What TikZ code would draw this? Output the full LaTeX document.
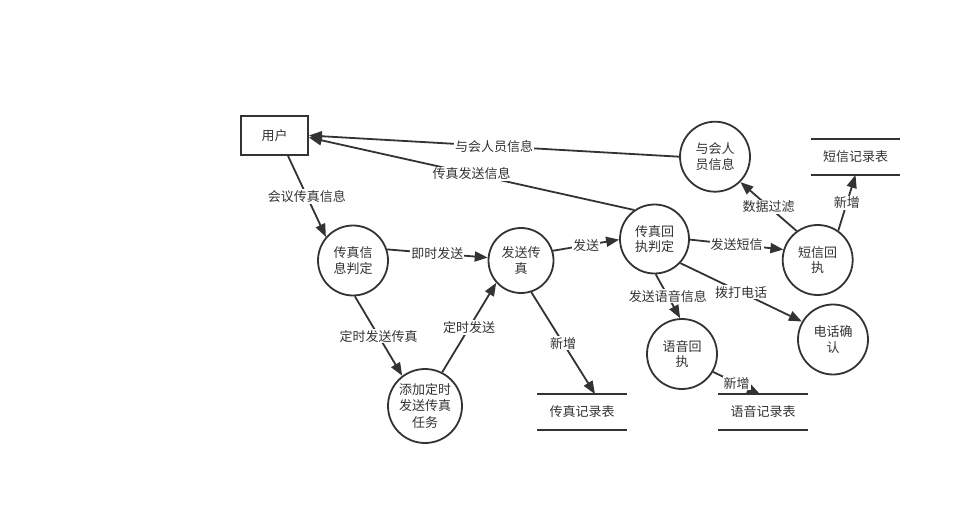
\documentclass[tikz,border=0pt]{standalone}
\usepackage{fontspec}
\setmainfont{Noto Sans CJK SC}
\usetikzlibrary{arrows.meta}
\definecolor{ink}{HTML}{333333}
\begin{document}
\begin{tikzpicture}[x=1pt,y=-1pt, line width=1.8pt, color=ink,
  font=\fontsize{13}{15.5}\selectfont,
  proc/.style={circle, draw, minimum size=70pt, inner sep=0pt, align=center},
  ent/.style={rectangle, draw, minimum width=67pt, minimum height=39pt, inner sep=0pt},
  store/.style={minimum width=88pt, minimum height=34pt, inner sep=0pt},
  flow/.style={-{Triangle[length=13pt,width=10pt]}},
  lbl/.style={fill=white, inner sep=1pt, midway}]
\fill[white] (0,0) rectangle (961,505);
\useasboundingbox (0,0) rectangle (961,505);

\node[ent] (user) at (274.5,135.5) {用户};
\node[proc] (pd) at (353,260.5) {传真信\\息判定};
\node[proc, minimum size=65pt] (fs) at (521,260.5) {发送传\\真};
\node[proc, minimum size=69pt] (fr) at (654.5,239) {传真回\\执判定};
\node[proc] (yh) at (715,156.7) {与会人\\员信息};
\node[proc] (sms) at (817.7,260) {短信回\\执};
\node[proc] (voice) at (682,354) {语音回\\执};
\node[proc] (phone) at (833,339.5) {电话确\\认};
\node[proc, minimum size=74pt, font=\fontsize{13}{16.5}\selectfont] (task) at (425,406) {添加定时\\发送传真\\任务};
\node[store] (st) at (855.5,157) {短信记录表};
\node[store] (fb) at (582,412) {传真记录表};
\node[store] (vt) at (763,412) {语音记录表};

\foreach \t in {st,fb,vt}{
  \draw (\t.north west) -- (\t.north east);
  \draw (\t.south west) -- (\t.south east);
}

\draw[flow] (yh.west) -- node[lbl]{与会人员信息} (user.east);
\draw[flow] (fr.125) -- node[lbl]{传真发送信息} ([yshift=-2pt]user.east);
\draw[flow] ([xshift=13.5pt]user.south) -- node[lbl]{会议传真信息} (pd.139);
\draw[flow] (pd.18) -- node[lbl]{即时发送} (fs.175);
\draw[flow] (pd.-87) -- node[lbl]{定时发送传真} (task.127);
\draw[flow] (task.63) -- node[lbl]{定时发送} (fs.222);
\draw[flow] (fs.-72) -- node[lbl]{新增} ([xshift=13pt]fb.north);
\draw[flow] (fs.17) -- node[lbl]{发送} (fr.181);
\draw[flow] (fr.-1) -- node[lbl]{发送短信} (sms.163);
\draw[flow] (sms.126) -- node[lbl]{数据过滤} (yh.-45);
\draw[flow] (sms.55) -- node[lbl]{新增} (st.south);
\draw[flow] (fr.-88) -- node[lbl]{发送语音信息} (voice.93);
\draw[flow] (fr.-43) -- node[lbl]{拨打电话} (phone.150);
\draw[flow] (voice.-30) -- node[lbl]{新增} ([xshift=-3pt]vt.north);
\end{tikzpicture}
\end{document}
